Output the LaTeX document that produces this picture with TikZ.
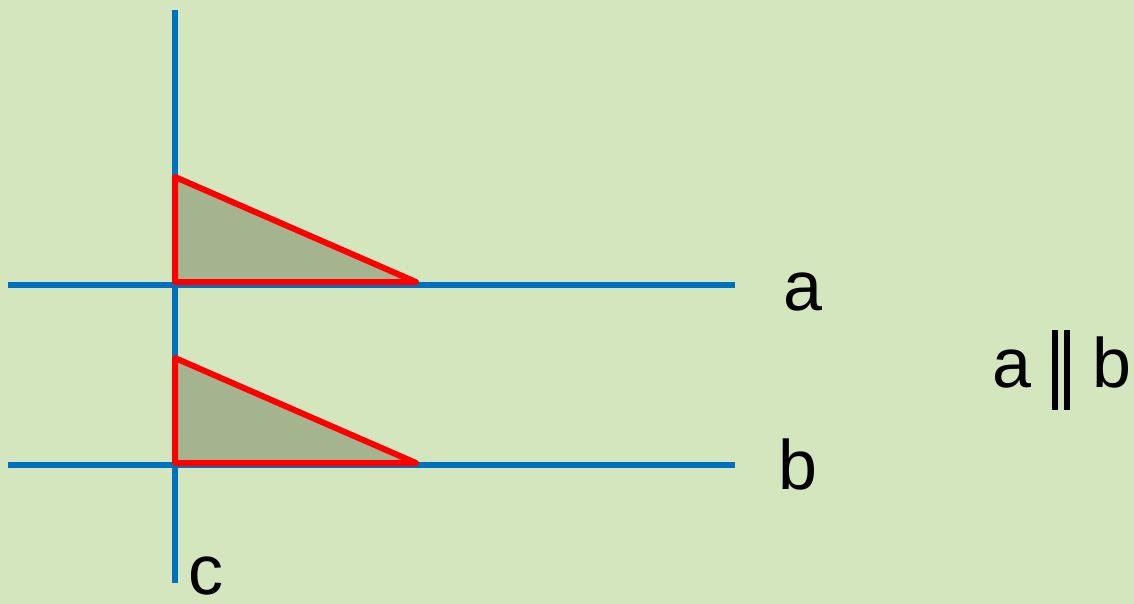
\documentclass[tikz,border=0pt]{standalone}
\usepackage{fontspec}
\setmainfont{Liberation Sans}
\definecolor{bg}{HTML}{D3E6BE}
\definecolor{tri}{HTML}{A4B48E}
\definecolor{lineblue}{HTML}{0070C0}
\definecolor{trired}{HTML}{FF0000}
\begin{document}
\begin{tikzpicture}[x=1pt,y=-1pt,
  blueline/.style={draw=lineblue,line width=5.5pt},
  tribox/.style={draw=trired,fill=tri,line width=6pt,line join=round},
  lbl/.style={inner sep=0pt,anchor=base,font=\fontsize{70}{84}\selectfont},
  bar/.style={draw=black,line width=6pt}]
\fill[bg] (0,0) rectangle (1134,604);
\useasboundingbox (0,0) rectangle (1134,604);
% lines
\coordinate (cT) at (175,10);
\coordinate (cB) at (175,583);
\coordinate (aL) at (8,285);
\coordinate (aR) at (735,285);
\coordinate (bL) at (8,465);
\coordinate (bR) at (735,465);
\draw[blueline] (cT) -- (cB);
\draw[blueline] (aL) -- (aR);
\draw[blueline] (bL) -- (bR);
% triangles
\coordinate (t1a) at (175,177);
\coordinate (t1b) at (175,282);
\coordinate (t1c) at (416,282);
\coordinate (t2a) at (175,358);
\coordinate (t2b) at (175,463);
\coordinate (t2c) at (416,463);
\filldraw[tribox] (t1a) -- (t1b) -- (t1c) -- cycle;
\filldraw[tribox] (t2a) -- (t2b) -- (t2c) -- cycle;
% labels
\node[lbl] (la) at (803,310) {a};
\node[lbl] (lb) at (798,489) {b};
\node[lbl] (lc) at (206,594) {c};
\node[lbl] (pa) at (1012,387) {a};
\node[lbl] (pb) at (1112,387) {b};
\coordinate (p1t) at (1055,330);
\coordinate (p1b) at (1055,410);
\coordinate (p2t) at (1067,330);
\coordinate (p2b) at (1067,410);
\draw[bar] (p1t) -- (p1b);
\draw[bar] (p2t) -- (p2b);
\end{tikzpicture}
\end{document}
